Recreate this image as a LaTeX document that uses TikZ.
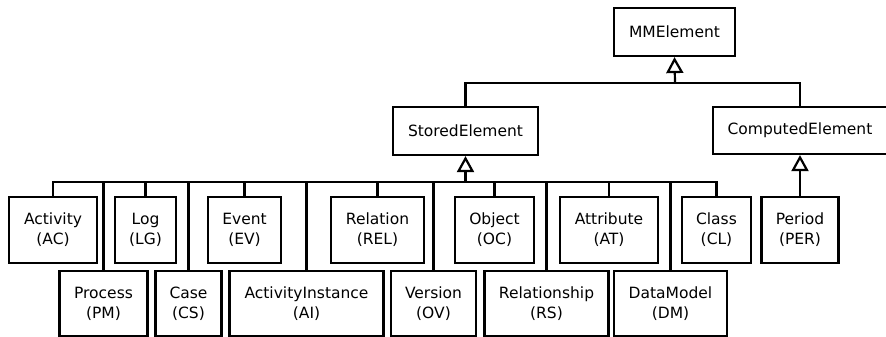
\documentclass[tikz,border=0pt]{standalone}
\usepackage{fontspec}
\setmainfont{DejaVu Sans}
\usetikzlibrary{arrows.meta}
\tikzset{
  cls/.style={draw, line width=2.2pt, fill=white, inner sep=0pt, align=center,
    font=\fontsize{15.5}{20}\selectfont},
  wire/.style={draw, line width=2.2pt},
  generalise/.style={draw, line width=2.2pt,
    -{Triangle[open, fill=white, length=16pt, width=17pt]}}
}
\begin{document}
\begin{tikzpicture}[x=1pt, y=-1pt]
  \useasboundingbox (0,0) rectangle (886,337);
  \clip (0,0) rectangle (886,337);

  % root and its two direct subclasses
  \node[cls, minimum width=121pt, minimum height=48pt] (mm) at (674.5,32) {MMElement};
  \node[cls, minimum width=145pt, minimum height=48pt] (stored) at (465.5,131) {StoredElement};
  \node[cls, minimum width=174pt, minimum height=47pt] (computed) at (800,130.5) {ComputedElement};

  % stored element subclasses, upper row
  \node[cls, minimum width=88pt, minimum height=66pt] (ac) at (53,230) {Activity\\(AC)};
  \node[cls, minimum width=61pt, minimum height=66pt] (lg) at (145.5,230) {Log\\(LG)};
  \node[cls, minimum width=73pt, minimum height=66pt] (ev) at (244.5,230) {Event\\(EV)};
  \node[cls, minimum width=93pt, minimum height=66pt] (rel) at (377.5,230) {Relation\\(REL)};
  \node[cls, minimum width=79pt, minimum height=66pt] (oc) at (494.5,230) {Object\\(OC)};
  \node[cls, minimum width=98pt, minimum height=66pt] (at) at (609,230) {Attribute\\(AT)};
  \node[cls, minimum width=69pt, minimum height=66pt] (cl) at (716.5,230) {Class\\(CL)};
  % computed element subclass
  \node[cls, minimum width=77pt, minimum height=66pt] (per) at (800,230) {Period\\(PER)};

  % stored element subclasses, lower row
  \node[cls, minimum width=88pt, minimum height=65pt] (pm) at (103.5,303.5) {Process\\(PM)};
  \node[cls, minimum width=66pt, minimum height=65pt] (cs) at (188.5,303.5) {Case\\(CS)};
  \node[cls, minimum width=154pt, minimum height=65pt] (ai) at (306.5,303.5) {ActivityInstance\\(AI)};
  \node[cls, minimum width=85pt, minimum height=65pt] (ov) at (433.5,303.5) {Version\\(OV)};
  \node[cls, minimum width=124pt, minimum height=65pt] (rs) at (546.5,303.5) {Relationship\\(RS)};
  \node[cls, minimum width=113pt, minimum height=65pt] (dm) at (670.5,303.5) {DataModel\\(DM)};

  % junction points of the generalisation trees
  \coordinate (topbus) at (675,83);
  \coordinate (bus) at (465.5,182);

  % MMElement generalisation
  \path[wire] (stored.north) |- (topbus);
  \path[wire] (computed.north) |- (topbus);
  \path[generalise] (topbus) -- (mm.south);

  % StoredElement generalisation
  \foreach \c in {ac,lg,ev,rel,oc,at,cl,pm,cs,ai,ov,rs,dm}
    \path[wire] (\c.north) |- (bus);
  \path[generalise] (bus) -- (stored.south);

  % ComputedElement generalisation
  \path[generalise] (per.north) -- (computed.south);
\end{tikzpicture}
\end{document}
